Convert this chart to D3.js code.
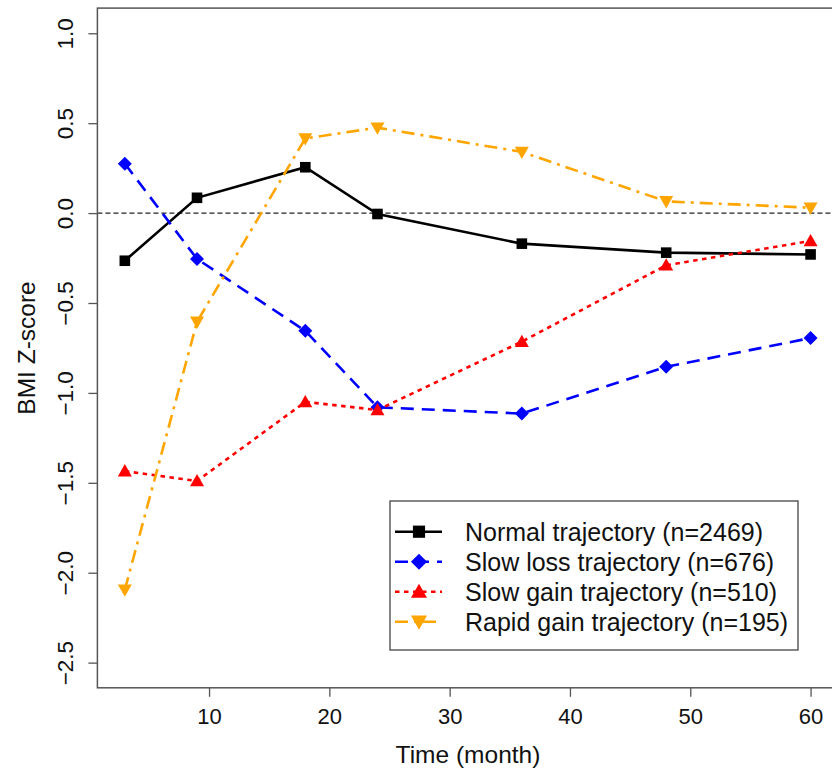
<!DOCTYPE html>
<html>
<head>
<meta charset="utf-8">
<script src="https://cdn.jsdelivr.net/npm/d3@7"></script>
<style>
  body { margin: 0; background: #fff; }
  svg text { font-family: "Liberation Sans", Arial, sans-serif; fill: #111; }
</style>
</head>
<body>
<svg id="chart" width="832" height="770"></svg>
<script>
// time points (month)
var months = [3, 9, 18, 24, 36, 48, 60];
var normal = [-0.265, 0.085, 0.255, -0.005, -0.17, -0.22, -0.23];
var slowLoss = [0.275, -0.255, -0.655, -1.08, -1.115, -0.855, -0.695];
var slowGain = [-1.435, -1.49, -1.05, -1.095, -0.715, -0.29, -0.155];
var rapidGain = [-2.095, -0.605, 0.415, 0.475, 0.34, 0.065, 0.03];
var seriesNames = ["Normal trajectory (n=2469)", "Slow loss trajectory (n=676)",
                   "Slow gain trajectory (n=510)", "Rapid gain trajectory (n=195)"];
var xTicks = [10, 20, 30, 40, 50, 60];
var yTicks = [1.0, 0.5, 0.0, -0.5, -1.0, -1.5, -2.0, -2.5];

var svg = d3.select("#chart");

var x = d3.scaleLinear().domain([0.72, 62.28]).range([97.4, 838]);
var y = d3.scaleLinear().domain([-2.64, 1.14]).range([687.8, 8.1]);

var styles = [
    {color: "#000000", dash: null, shape: "square"},
    {color: "#0000ff", dash: "13,8", shape: "diamond"},
    {color: "#ff0000", dash: "4.5,4.5", shape: "up"},
    {color: "#ffa500", dash: "13,6,3,6", shape: "down"}
];
var allSeries = [normal, slowLoss, slowGain, rapidGain];

// marker shapes, s = scale
function marker(g, shape, color, s) {
    if (shape == "square") {
        g.append("rect").attr("x", -5.3 * s).attr("y", -5.3 * s)
            .attr("width", 10.6 * s).attr("height", 10.6 * s).attr("fill", color);
    } else if (shape == "diamond") {
        g.append("path").attr("d", "M0,-7L7,0L0,7L-7,0Z").attr("transform", "scale(" + s + ")").attr("fill", color);
    } else if (shape == "up") {
        g.append("path").attr("d", "M0,-7L7,5.3L-7,5.3Z").attr("transform", "scale(" + s + ")").attr("fill", color);
    } else {
        g.append("path").attr("d", "M0,7L7,-5.3L-7,-5.3Z").attr("transform", "scale(" + s + ")").attr("fill", color);
    }
}

// zero reference line
svg.append("line")
    .attr("x1", 97.4).attr("x2", 832)
    .attr("y1", y(0)).attr("y2", y(0))
    .attr("stroke", "#222").attr("stroke-width", 1.1)
    .attr("stroke-dasharray", "5,3");

var line = d3.line()
    .x((d, i) => x(months[i]))
    .y(d => y(d));

allSeries.forEach(function(s, k) {
    var st = styles[k];
    svg.append("path")
        .datum(s)
        .attr("d", line)
        .attr("fill", "none")
        .attr("stroke", st.color)
        .attr("stroke-width", 2.6)
        .attr("stroke-dasharray", st.dash);
    s.forEach(function(v, i) {
        var g = svg.append("g").attr("transform", "translate(" + x(months[i]) + "," + y(v) + ")");
        marker(g, st.shape, st.color, 1);
    });
});

/* axes */
var xAxis = svg.append("g")
    .attr("transform", "translate(0,687.8)")
    .call(d3.axisBottom(x).tickValues(xTicks).tickSize(9).tickPadding(5).tickFormat(d3.format("d")));
xAxis.select(".domain").remove();
xAxis.selectAll("line").attr("stroke", "#555").attr("stroke-width", 1.3);
xAxis.selectAll("text").style("font-size", "22px").attr("fill", "#111")
    .attr("dy", null).attr("y", 36);

var yAxis = svg.append("g")
    .attr("transform", "translate(97.4,0)")
    .call(d3.axisLeft(y).tickValues(yTicks).tickSize(9).tickFormat(d3.format(".1f")));
yAxis.select(".domain").remove();
yAxis.selectAll("line").attr("stroke", "#555").attr("stroke-width", 1.3);
yAxis.selectAll("text")
    .style("font-size", "22.5px").attr("fill", "#111")
    .attr("x", null).attr("dy", null)
    .attr("text-anchor", "middle")
    .attr("transform", "translate(-24,0) rotate(-90)");

// plot box
svg.append("rect")
    .attr("x", 97.4).attr("y", 8.1)
    .attr("width", 838 - 97.4).attr("height", 687.8 - 8.1)
    .attr("fill", "none").attr("stroke", "#555").attr("stroke-width", 1.5);

// axis titles
svg.append("text")
    .attr("x", 468).attr("y", 763)
    .attr("text-anchor", "middle")
    .style("font-size", "24.5px")
    .text("Time (month)");
svg.append("text")
    .attr("transform", "translate(35,348) rotate(-90)")
    .attr("text-anchor", "middle")
    .style("font-size", "24.5px")
    .text("BMI Z-score");

/* legend */
var legend = svg.append("g");
legend.append("rect")
    .attr("x", 390).attr("y", 501).attr("width", 408).attr("height", 149)
    .attr("fill", "#fff").attr("stroke", "#444").attr("stroke-width", 1.3);
seriesNames.forEach(function(name, k) {
    var st = styles[k];
    var ry = 531.7 + k * 30;
    legend.append("line")
        .attr("x1", 395).attr("x2", 442).attr("y1", ry).attr("y2", ry)
        .attr("stroke", st.color).attr("stroke-width", 2.6)
        .attr("stroke-dasharray", st.dash);
    marker(legend.append("g").attr("transform", "translate(419," + ry + ")"), st.shape, st.color, 1.15);
    legend.append("text")
        .attr("x", 465).attr("y", ry + 8.8)
        .style("font-size", "25px")
        .text(name);
});
</script>
</body>
</html>
